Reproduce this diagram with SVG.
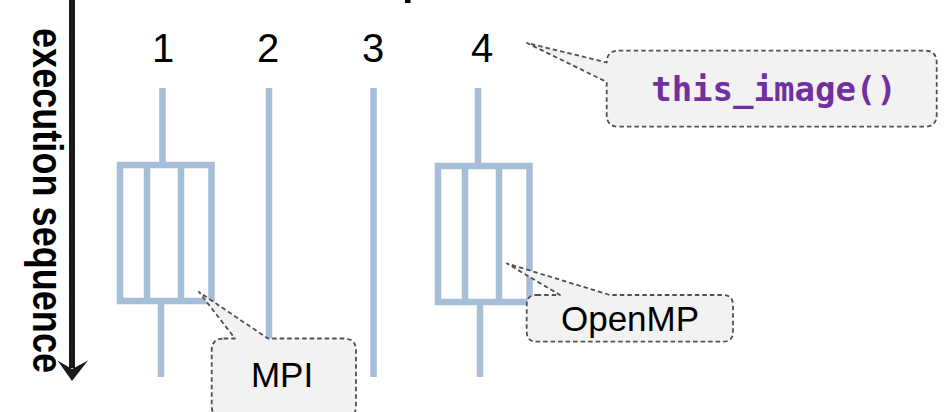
<svg xmlns="http://www.w3.org/2000/svg" width="949" height="412" viewBox="0 0 949 412">
  <style>
    .proc { stroke: #a6bed8; stroke-width: 6.5; fill: none; }
    .num { font-family: "Liberation Sans", Arial, sans-serif; font-size: 40px; fill: #000; text-anchor: middle; }
    .callout { fill: #f2f2f2; stroke: #505050; stroke-width: 1.8; stroke-dasharray: 4.5 3; stroke-linejoin: round; }
    .label { font-family: "Liberation Sans", Arial, sans-serif; font-size: 35px; fill: #000; text-anchor: middle; }
    .code { font-family: "DejaVu Sans Mono", "Liberation Mono", monospace; font-weight: bold; font-size: 34px; fill: #7030a0; text-anchor: middle; }
  </style>
  <defs>
    <!-- three-cell parallel block -->
    <g id="block">
      <rect class="proc" x="0" y="0" width="91.5" height="136"/>
      <line class="proc" x1="27" y1="0" x2="27" y2="136"/>
      <line class="proc" x1="61" y1="0" x2="61" y2="136"/>
    </g>
  </defs>
  <rect width="949" height="412" fill="#fff"/>

  <!-- clipped glyph at the top edge -->
  <rect x="405" y="0" width="5.5" height="3" fill="#000"/>

  <!-- execution sequence axis -->
  <g id="axis">
    <line x1="72" y1="0" x2="72" y2="368" stroke="#1a1a1a" stroke-width="6"/>
    <path d="M72,381 L57.5,360.5 L72,369 L88,360.5 Z" fill="#1a1a1a"/>
    <text transform="translate(33,28) rotate(90) scale(1,1.17)" font-family="'Liberation Sans', Arial, sans-serif" font-weight="bold" font-size="36" textLength="345" fill="#000">execution sequence</text>
  </g>

  <!-- image numbers -->
  <g id="labels">
    <text class="num" x="163" y="62">1</text>
    <text class="num" x="268" y="62">2</text>
    <text class="num" x="373" y="62">3</text>
    <text class="num" x="482" y="62">4</text>
  </g>

  <g id="image1">
    <line class="proc" x1="162.5" y1="88" x2="162.5" y2="165"/>
    <use href="#block" x="120" y="165"/>
    <line class="proc" x1="161" y1="301" x2="161" y2="377"/>
  </g>
  <g id="image2">
    <line class="proc" x1="269" y1="88" x2="269" y2="377"/>
  </g>
  <g id="image3">
    <line class="proc" x1="373.5" y1="88" x2="373.5" y2="377"/>
  </g>
  <g id="image4">
    <line class="proc" x1="478" y1="88" x2="478" y2="166"/>
    <use href="#block" x="438" y="166"/>
    <line class="proc" x1="480" y1="302" x2="480" y2="377"/>
  </g>

  <!-- callouts -->
  <g id="callout-this-image">
    <path class="callout" d="M618.7,50.7 H924.7 Q936.7,50.7 936.7,62.7 V114.7 Q936.7,126.7 924.7,126.7 H618.7 Q606.7,126.7 606.7,114.7 V82 L527,43 L606.7,62.5 Q606.7,50.7 618.7,50.7 Z"/>
    <text class="code" x="774" y="101">this_image()</text>
  </g>
  <g id="callout-openmp">
    <path class="callout" d="M536.7,295 H560 L507,263.5 L610,295 H723 Q733,295 733,305 V331.7 Q733,341.7 723,341.7 H536.7 Q526.7,341.7 526.7,331.7 V305 Q526.7,295 536.7,295 Z"/>
    <text class="label" x="630" y="330.5">OpenMP</text>
  </g>
  <g id="callout-mpi">
    <path class="callout" d="M223.7,338.5 H235 L199,292 L268,338.5 H344 Q356,338.5 356,350.5 V406 Q356,418 344,418 H223.7 Q211.7,418 211.7,406 V350.5 Q211.7,338.5 223.7,338.5 Z"/>
    <text class="label" x="282" y="386.5">MPI</text>
  </g>
</svg>
